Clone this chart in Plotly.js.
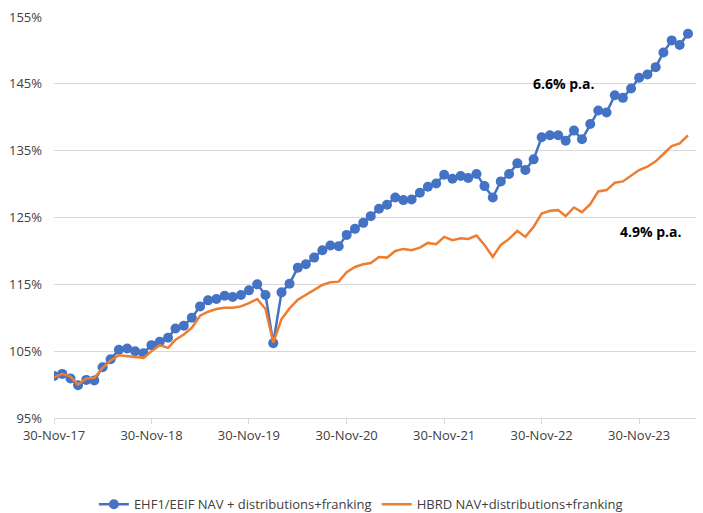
<!DOCTYPE html>
<html>
<head>
<meta charset="utf-8">
<script src="https://cdn.plot.ly/plotly-3.0.1.min.js"></script>
<style>html,body{margin:0;padding:0;background:#fff;}#chart{width:703px;height:513px;}</style>
</head>
<body>
<div id="chart"></div>
<script>
// Month-end dates (Nov 2017 – May 2024)
const dates = [
  '2017-11-30','2017-12-31',
  '2018-01-31','2018-02-28','2018-03-31','2018-04-30','2018-05-31','2018-06-30','2018-07-31','2018-08-31','2018-09-30','2018-10-31','2018-11-30','2018-12-31',
  '2019-01-31','2019-02-28','2019-03-31','2019-04-30','2019-05-31','2019-06-30','2019-07-31','2019-08-31','2019-09-30','2019-10-31','2019-11-30','2019-12-31',
  '2020-01-31','2020-02-29','2020-03-31','2020-04-30','2020-05-31','2020-06-30','2020-07-31','2020-08-31','2020-09-30','2020-10-31','2020-11-30','2020-12-31',
  '2021-01-31','2021-02-28','2021-03-31','2021-04-30','2021-05-31','2021-06-30','2021-07-31','2021-08-31','2021-09-30','2021-10-31','2021-11-30','2021-12-31',
  '2022-01-31','2022-02-28','2022-03-31','2022-04-30','2022-05-31','2022-06-30','2022-07-31','2022-08-31','2022-09-30','2022-10-31','2022-11-30','2022-12-31',
  '2023-01-31','2023-02-28','2023-03-31','2023-04-30','2023-05-31','2023-06-30','2023-07-31','2023-08-31','2023-09-30','2023-10-31','2023-11-30','2023-12-31',
  '2024-01-31','2024-02-29','2024-03-31','2024-04-30','2024-05-31'
];

// EHF1/EEIF NAV + distributions + franking (%)
const ehf1 = [
  101.3,101.6,100.9,99.9,100.7,100.6,102.6,103.8,105.2,105.4,105.0,104.7,
  105.9,106.4,107.0,108.4,108.8,110.0,111.7,112.6,112.8,113.3,113.1,113.4,
  114.1,115.0,113.4,106.2,113.8,115.1,117.5,118.0,119.0,120.1,120.8,120.7,
  122.4,123.3,124.2,125.2,126.3,126.9,128.0,127.6,127.7,128.7,129.6,130.1,
  131.4,130.8,131.2,130.9,131.5,129.7,128.0,130.4,131.5,133.1,132.1,133.7,
  137.0,137.3,137.3,136.5,138.0,136.7,139.0,141.0,140.7,143.3,142.9,144.3,
  145.9,146.4,147.5,149.7,151.5,150.8,152.5
];

// HBRD NAV + distributions + franking (%)
const hbrd = [
  101.1,101.6,101.2,100.0,100.9,101.0,102.5,103.6,104.4,104.3,104.2,104.0,
  105.0,105.9,105.5,106.7,107.5,108.5,110.3,110.9,111.3,111.5,111.5,111.7,
  112.2,112.8,111.3,106.3,109.8,111.4,112.7,113.4,114.2,114.9,115.3,115.4,
  116.8,117.6,118.0,118.2,119.1,119.0,120.0,120.3,120.1,120.5,121.2,121.0,
  122.1,121.6,121.9,121.8,122.3,120.9,119.1,120.9,121.8,123.0,122.1,123.6,
  125.6,126.0,126.1,125.2,126.5,125.8,127.0,128.9,129.1,130.2,130.4,131.2,
  132.1,132.6,133.4,134.5,135.7,136.1,137.3
];

const xTickVals = ['2017-11-30','2018-11-30','2019-11-30','2020-11-30','2021-11-30','2022-11-30','2023-11-30'];
const xTickText = ['30-Nov-17','30-Nov-18','30-Nov-19','30-Nov-20','30-Nov-21','30-Nov-22','30-Nov-23'];
const yTickVals = [95,105,115,125,135,145,155];
const yTickText = ['95%','105%','115%','125%','135%','145%','155%'];

const seriesNames = ['EHF1/EEIF NAV + distributions+franking','HBRD NAV+distributions+franking'];
const notes = [
  {text:'6.6% p.a.', x:'2023-02-20', y:145.1},
  {text:'4.9% p.a.', x:'2024-01-13', y:122.9}
];

const FONT = '"Open Sans", "Liberation Sans", sans-serif';

const traces = [
  {
    x: dates, y: ehf1, name: seriesNames[0], type: 'scatter', mode: 'lines+markers',
    line: {color:'#4472C4', width:2.5},
    marker: {color:'#4472C4', size:10}
  },
  {
    x: dates, y: hbrd, name: seriesNames[1], type: 'scatter', mode: 'lines',
    line: {color:'#ED7D31', width:2.5}
  }
];

const layout = {
  width: 703, height: 513,
  margin: {l:54, r:7, t:17, b:95, autoexpand:false},
  paper_bgcolor:'#ffffff', plot_bgcolor:'#ffffff',
  font: {family: FONT, size: 13, color:'#404040'},
  showlegend: true,
  legend: {
    orientation:'h', x:0.478, xanchor:'center', y:-0.215, yanchor:'middle',
    font:{family:FONT, size:13, color:'#404040'}, itemwidth:30, traceorder:'normal'
  },
  xaxis: {
    type:'date', range:['2017-11-30','2024-06-30'],
    tickvals: xTickVals, ticktext: xTickText,
    showgrid:false, showline:true, linecolor:'#d9d9d9', linewidth:1,
    ticks:'outside', ticklen:5, tickcolor:'#d9d9d9',
    tickfont:{family:FONT, size:13, color:'#404040'}, zeroline:false
  },
  yaxis: {
    range:[95,155], tickvals:yTickVals, ticktext:yTickText,
    showgrid:true, gridcolor:'#d9d9d9', gridwidth:1, showline:false, zeroline:false,
    ticks:'', ticklabelstandoff:11,
    tickfont:{family:FONT, size:13, color:'#404040'}
  },
  annotations: notes.map(n => ({
    text:n.text, x:n.x, y:n.y, xref:'x', yref:'y', showarrow:false,
    font:{family:FONT, size:14, color:'#000000', weight:'bold'}
  }))
};

Plotly.newPlot('chart', traces, layout, {displayModeBar:false, staticPlot:true});
</script>
</body>
</html>
